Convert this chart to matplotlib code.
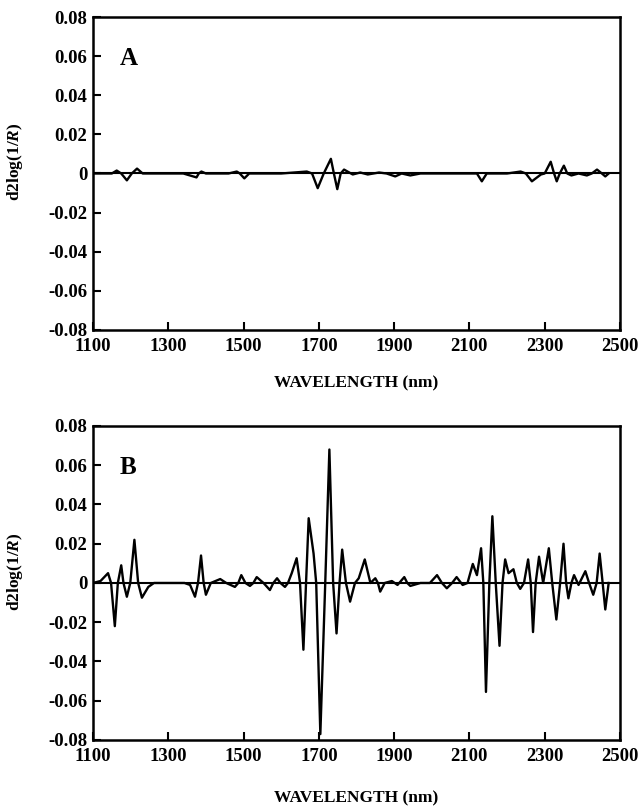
import numpy as np
import matplotlib
matplotlib.use('Agg')
import matplotlib.pyplot as plt

plt.rcParams['font.family'] = 'Liberation Serif'
plt.rcParams['font.weight'] = 'bold'
plt.rcParams['mathtext.fontset'] = 'custom'
plt.rcParams['mathtext.rm'] = 'Liberation Serif:bold'
plt.rcParams['mathtext.it'] = 'Liberation Serif:bold:italic'

# second-derivative spectra (nm, d2log(1/R))
wl_a = [1100, 1150, 1163, 1175, 1190, 1203, 1217, 1232, 1260, 1340, 1375, 1381,
        1388, 1400, 1460, 1482, 1490, 1502, 1515, 1600, 1668, 1682, 1697, 1713,
        1732, 1740, 1749, 1758, 1767, 1790, 1810, 1830, 1860, 1880, 1903, 1920,
        1943, 1970, 2000, 2100, 2120, 2133, 2146, 2200, 2236, 2250, 2266, 2290,
        2300, 2316, 2325, 2332, 2340, 2351, 2360, 2371, 2390, 2412, 2425, 2439,
        2452, 2461, 2470]
d2_a = [0, 0, 0.0015, 0, -0.0035, 0, 0.0025, 0, 0, 0, -0.002, 0,
        0.001, 0, 0, 0.001, 0, -0.0025, 0, 0, 0.001, 0, -0.0075, 0,
        0.0075, 0, -0.008, 0, 0.002, -0.0005, 0.0005, -0.0005, 0.0005, 0, -0.0015, 0,
        -0.001, 0, 0, 0, 0, -0.004, 0, 0, 0.001, 0, -0.004, -0.0005,
        0, 0.006, 0, -0.004, 0, 0.004, 0, -0.001, 0, -0.001, 0, 0.002,
        0, -0.0015, 0]

wl_b = [1100, 1120, 1140, 1148, 1158, 1166, 1175, 1181, 1190, 1199, 1210, 1220,
        1230, 1247, 1262, 1302, 1343, 1358, 1371, 1379, 1387, 1394, 1400, 1413,
        1438, 1454, 1477, 1486, 1494, 1505, 1517, 1526, 1535, 1553, 1570, 1579,
        1589, 1598, 1610, 1618, 1628, 1641, 1650, 1659, 1666, 1673, 1686, 1693,
        1704, 1717, 1728, 1738, 1747, 1755, 1762, 1772, 1783, 1796, 1806, 1822,
        1837, 1850, 1857, 1863, 1875, 1894, 1909, 1927, 1935, 1943, 1970, 1995,
        2014, 2027, 2040, 2054, 2066, 2082, 2095, 2109, 2120, 2131, 2137, 2144,
        2153, 2161, 2170, 2180, 2188, 2195, 2204, 2217, 2226, 2235, 2245, 2256,
        2263, 2269, 2276, 2285, 2296, 2311, 2320, 2331, 2341, 2350, 2357, 2363,
        2371, 2378, 2390, 2408, 2418, 2429, 2438, 2446, 2454, 2461, 2470]
d2_b = [0, 0.001, 0.005, 0, -0.022, 0, 0.009, 0, -0.007, 0, 0.022, 0,
        -0.0075, -0.002, 0, 0, 0, -0.001, -0.007, 0, 0.014, 0, -0.006, 0,
        0.002, 0, -0.002, 0, 0.004, 0, -0.0015, 0, 0.003, 0, -0.0036, 0,
        0.0024, 0, -0.002, 0, 0.005, 0.0126, 0, -0.034, 0, 0.033, 0.015, 0,
        -0.077, 0, 0.068, 0, -0.0257, 0, 0.017, 0, -0.0095, 0, 0.0024, 0.012,
        0, 0.0024, 0, -0.0044, 0, 0.001, -0.001, 0.003, 0, -0.0015, 0, 0,
        0.004, 0, -0.0027, 0, 0.003, -0.001, 0, 0.0097, 0.004, 0.0177, 0, -0.0555,
        0, 0.034, 0, -0.032, 0, 0.012, 0.005, 0.007, 0, -0.003, 0, 0.012,
        0, -0.025, 0, 0.0134, 0, 0.0177, 0, -0.0186, 0, 0.020, 0, -0.0078,
        0, 0.004, -0.001, 0.006, 0, -0.006, 0, 0.015, 0, -0.0135, 0]

x_ticks = [1100, 1300, 1500, 1700, 1900, 2100, 2300, 2500]
y_ticks = [-0.08, -0.06, -0.04, -0.02, 0, 0.02, 0.04, 0.06, 0.08]
y_labels = ['-0.08', '-0.06', '-0.04', '-0.02', '0', '0.02', '0.04', '0.06', '0.08']

fig = plt.figure(figsize=(6.4, 8.06), dpi=100)
# letter, x, y, axes rect, xlabel offset (axes fraction)
panels = [('A', wl_a, d2_a, [0.1453, 0.5906, 0.8234, 0.3883], -0.144),
          ('B', wl_b, d2_b, [0.1453, 0.0819, 0.8234, 0.3896], -0.159)]

for letter, wl, d2, rect, xlab_y in panels:
    ax = fig.add_axes(rect)
    ax.axhline(0, color='black', lw=1.5)
    ax.plot(wl, d2, color='black', lw=1.7, solid_joinstyle='round')
    ax.set_xlim(1100, 2500)
    ax.set_ylim(-0.08, 0.08)
    ax.set_xticks(x_ticks)
    ax.set_yticks(y_ticks)
    ax.set_yticklabels(y_labels)
    ax.tick_params(direction='in', length=6, width=1.5, labelsize=13.5)
    ax.tick_params(axis='x', pad=6)
    ax.tick_params(axis='y', pad=4)
    for sp in ax.spines.values():
        sp.set_linewidth(1.8)
    ax.set_xlabel('WAVELENGTH (nm)', fontsize=12.5, fontweight='bold')
    ax.xaxis.set_label_coords(0.5, xlab_y)
    ax.set_ylabel(r'$\mathrm{d2log(1/}\mathit{R}\mathrm{)}$', fontsize=12.5)
    ax.yaxis.set_label_coords(-0.129, 0.536)
    ax.text(1172, 0.059, letter, fontsize=18, fontweight='bold', va='center')

fig.savefig('out.png', dpi=100)
